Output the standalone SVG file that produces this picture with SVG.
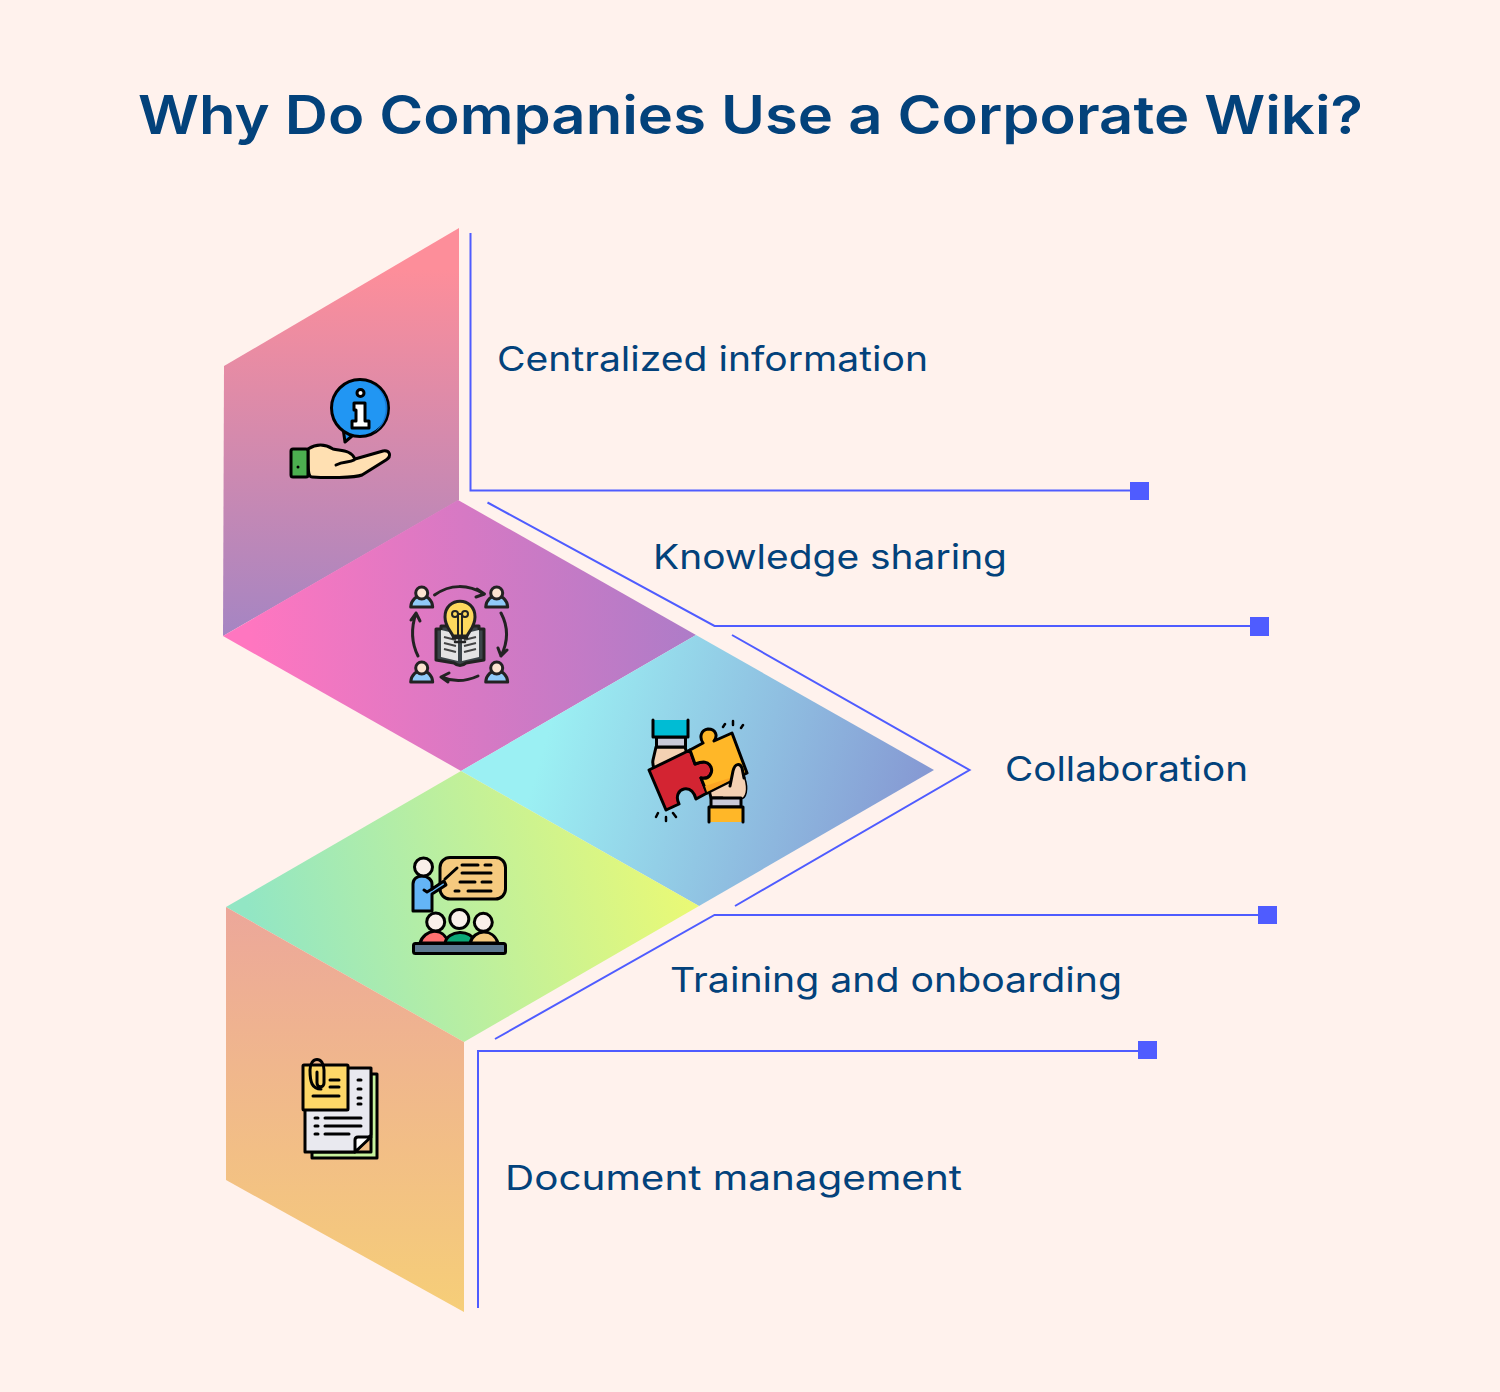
<svg xmlns="http://www.w3.org/2000/svg" width="1500" height="1392" viewBox="0 0 1500 1392">
<style>
.title{font-family:Inter,"Liberation Sans",sans-serif;font-size:53px;font-weight:600;fill:#03427b}
.label{font-family:Inter,"Liberation Sans",sans-serif;font-size:34px;font-weight:400;fill:#03427b}
.conn{fill:none;stroke:#4f5cff;stroke-width:2}
.end{fill:#4f5cff}
.k{stroke:#000;stroke-width:3;stroke-linejoin:round;stroke-linecap:round}
.d{stroke:#222;stroke-width:3;stroke-linejoin:round;stroke-linecap:round}
.a{fill:none}
.n{fill:none;stroke:#000;stroke-width:3;stroke-linejoin:round;stroke-linecap:round}
</style>
<defs>
<linearGradient id="g1" gradientUnits="userSpaceOnUse" x1="341" y1="270" x2="341" y2="636"><stop offset="0" stop-color="#fd8e9a"/><stop offset="1" stop-color="#a585c3"/></linearGradient>
<linearGradient id="g2" gradientUnits="userSpaceOnUse" x1="250" y1="636" x2="696" y2="600"><stop offset="0" stop-color="#ff76c0"/><stop offset="1" stop-color="#ad7cc8"/></linearGradient>
<linearGradient id="g3" gradientUnits="userSpaceOnUse" x1="560" y1="690" x2="934" y2="800"><stop offset="0" stop-color="#9bf0f3"/><stop offset="1" stop-color="#8596d2"/></linearGradient>
<linearGradient id="g4" gradientUnits="userSpaceOnUse" x1="260" y1="960" x2="680" y2="860"><stop offset="0" stop-color="#92e6c4"/><stop offset="1" stop-color="#e9f976"/></linearGradient>
<linearGradient id="g5" gradientUnits="userSpaceOnUse" x1="345" y1="907" x2="345" y2="1312"><stop offset="0" stop-color="#eca79a"/><stop offset="1" stop-color="#f6ce78"/></linearGradient>
<g id="person"><path d="M-11 14C-10 -1 10 -1 11 14Z" fill="#90caf9" class="d"/><circle cx="0" cy="0" r="6" fill="#fbe3d0" class="d"/></g>
</defs>
<rect id="background" width="1500" height="1392" fill="#fff2ed"/>
<text id="title" class="title" x="138" y="134" textLength="1225" lengthAdjust="spacingAndGlyphs">Why Do Companies Use a Corporate Wiki?</text>

<g id="connectors">
<path class="conn" d="M470.500 233V490.500H1140"/>
<path class="conn" d="M487.500 502.500L714.500 626H1260"/>
<path class="conn" d="M732 635L969.500 770L735 906"/>
<path class="conn" d="M1267 915H714.500L495 1039"/>
<path class="conn" d="M1147 1051H478V1308"/>
<rect class="end" x="1130" y="482" width="19" height="18"/>
<rect class="end" x="1250" y="617" width="19" height="19"/>
<rect class="end" x="1258" y="906" width="19" height="18"/>
<rect class="end" x="1138" y="1041" width="19" height="18"/>
</g>

<g id="node-centralized">
<path d="M459 228L224 366L223 636L459 500Z" fill="url(#g1)"/>
<path d="M345 442L343 428L352 436Z" fill="#2196f3" class="k"/>
<circle cx="360" cy="408" r="28.500" fill="#2196f3" class="k"/>
<path d="M373 384A28 28 0 0 1 373 433A30 30 0 0 0 373 384Z" fill="#1976d2"/>
<circle cx="360.500" cy="393" r="3.500" fill="#fff" class="k"/>
<path d="M354 403H365V421H369V428H352V421H356V410H354Z" fill="#fff" class="k"/>
<path d="M308 449C316 444 325 444 333 449C342 451 351 450 355 459L383 451C390 450 392 456 386 460L362 475C355 478 325 478 312 477C308 477 308 470 308 449Z" fill="#ffe0b2" class="k"/>
<path d="M336 465C344 461 349 463 354 460" class="n"/>
<rect x="291" y="449" width="17" height="28" rx="2" fill="#4caf50" class="k"/>
<circle cx="298" cy="467" r="1.500" fill="#000"/>
<text class="label" x="497" y="371" textLength="431" lengthAdjust="spacingAndGlyphs">Centralized information</text>
</g>

<g id="node-knowledge">
<path d="M223 636L458 500L696 635L461 771Z" fill="url(#g2)"/>
<use href="#person" x="421.700" y="593"/>
<use href="#person" x="496.700" y="593"/>
<use href="#person" x="421.700" y="668"/>
<use href="#person" x="496.700" y="668"/>
<path class="d a" d="M434.500 595C450 584 468 584 484 594M477 589L484.500 594L476 597"/>
<path class="d a" d="M501 613C509 628 508 642 501 656M498 648L501 656L507 650"/>
<path class="d a" d="M478 676C465 682 453 682 441 677M449 673L441 677L448 682"/>
<path class="d a" d="M418 656C411 642 411 628 416 613M411 620L416 613L420 621"/>
<path d="M436 660V629H441V626H479V629H484V660L466 663Q460 668 454 663Z" fill="#3c4449" class="d"/>
<path d="M441 630L458 634V661L441 657Z" fill="#e4e4e4"/>
<path d="M479 630L462 634V661L479 657Z" fill="#e4e4e4"/>
<path d="M444 637L456 640M444 643L456 646M444 649L456 652M476 637L464 640M476 643L464 646M476 649L464 652" stroke="#444" stroke-width="2" fill="none"/>
<path d="M453 636C450 630 445 626 445 617C445 596 475 596 475 617C475 626 470 630 467 636Z" fill="#fdd85d" class="d"/>
<circle cx="455" cy="614" r="3" fill="none" stroke="#222" stroke-width="2"/>
<circle cx="465" cy="614" r="3" fill="none" stroke="#222" stroke-width="2"/>
<path d="M458 614V635M462 614V635M458 614H462" fill="none" stroke="#222" stroke-width="2"/>
<path d="M453 638H467M455 642H465" stroke="#222" stroke-width="2.500" stroke-linecap="round"/>
<text class="label" x="653" y="569" textLength="354" lengthAdjust="spacingAndGlyphs">Knowledge sharing</text>
</g>

<g id="node-collaboration">
<path d="M461 771L696 635L934 770L699 906Z" fill="url(#g3)"/>
<path d="M656 747H685L688 757L672 790C664 785 651 770 653 760Z" fill="#f4d1b3" class="k"/>
<rect x="656.500" y="737" width="29" height="10" fill="#c9c9d8" class="k"/>
<path d="M653 720V737H688V720" fill="#00bcd4" class="k"/>
<path d="M709 790L732 775L742 770L744 778C748 790 745 798 741 798H711Z" fill="#f4d1b3" class="k"/>
<path d="M690 750L649 770L666 810L679 804C675 796 679 790 684 789C690 788 694 792 696 799L707 793L701 778C710 780 713 772 711 767C708 761 703 761 695 764Z" fill="#d32432" class="k"/>
<path d="M690 750L703 743C699 737 701 730 708 729C716 729 718 736 714 741L732 733L747 773L707 793L701 778C710 780 713 772 711 767C708 761 703 761 695 764Z" fill="#ffb728" class="k"/>
<path d="M705 786L745 773L707 792Z" fill="#faa523"/>
<path d="M730 786L733 771C735 763 740 763 742 768L744 778C748 790 745 798 741 798H722Z" fill="#f4d1b3" stroke="none"/>
<path d="M730 786L733 771C735 763 740 763 742 768L744 778" class="n"/>
<rect x="711" y="798" width="30" height="9" fill="#c9c9d8" class="k"/>
<path d="M709 822V807H743V822" fill="#ffb728" class="k"/>
<path class="n" style="stroke-width:2.500" d="M723 727L725 724M733 725V721M741 728L743 725M656 817L658 813M666 821V817M676 817L673 813"/>
<text class="label" x="1005" y="781" textLength="243" lengthAdjust="spacingAndGlyphs">Collaboration</text>
</g>

<g id="node-training">
<path d="M226 907L461 771L699 906L464 1042Z" fill="url(#g4)"/>
<rect x="440" y="857.500" width="65.500" height="41.500" rx="10" fill="#f6ca7f" class="k"/>
<path class="n" d="M462 865H478M485 865H491M462 873H491M460 882H475M482 882H491M455 891H459M468 891H491"/>
<path class="n" d="M445 879L457 868"/>
<path d="M413 911V884C413 879 417 876 422 876C428 876 432 880 432 884V889L444 881L446 885L432 894V911Z" fill="#64b5f6" class="k"/>
<circle cx="423.500" cy="867" r="9" fill="#f9efe9" class="k"/>
<path d="M424 890L427 892L432 889" class="n"/>
<path d="M420 943C424 929 444 926 448 943Z" fill="#ff7070" class="k"/>
<path d="M445 943C447 930 472 928 475 943Z" fill="#0aa877" class="k"/>
<path d="M470 943C474 929 493 928 498 943Z" fill="#f6ca7f" class="k"/>
<circle cx="435.700" cy="922" r="9" fill="#f9efe9" class="k"/>
<circle cx="459.300" cy="919" r="9.500" fill="#f9efe9" class="k"/>
<circle cx="483.300" cy="922.300" r="9" fill="#f9efe9" class="k"/>
<rect x="413.500" y="943.500" width="92" height="10" rx="2" fill="#5c7890" class="k"/>
<text class="label" x="670" y="992" textLength="452" lengthAdjust="spacingAndGlyphs">Training and onboarding</text>
</g>

<g id="node-documents">
<path d="M226 907L464 1042V1312L226 1180Z" fill="url(#g5)"/>
<path d="M371 1074H377V1158H312V1152H371Z" fill="#c8f29d" class="k"/>
<path d="M305 1068H371V1135L355 1152H305Z" fill="#e9e9ef" class="k"/>
<path d="M355 1152V1140C355 1138 356 1137 358 1137H371Z" fill="#fff" class="k"/>
<path class="n" d="M358 1080H361M358 1089H361M358 1098H361M358 1104H361M315 1118H318M325 1118H361M315 1126H318M325 1126H361M315 1134H318M325 1134H349"/>
<rect x="303" y="1065" width="45" height="45" rx="1" fill="#fdd768" class="k"/>
<path class="n" d="M321 1089C312 1089 310 1082 310 1070C310 1056 324 1056 324 1070V1083C324 1088 317 1088 317 1083V1072"/>
<path class="n" d="M330 1080H339M330 1087H339M313 1096H339"/>
<text class="label" x="505" y="1190" textLength="457" lengthAdjust="spacingAndGlyphs">Document management</text>
</g>
</svg>
